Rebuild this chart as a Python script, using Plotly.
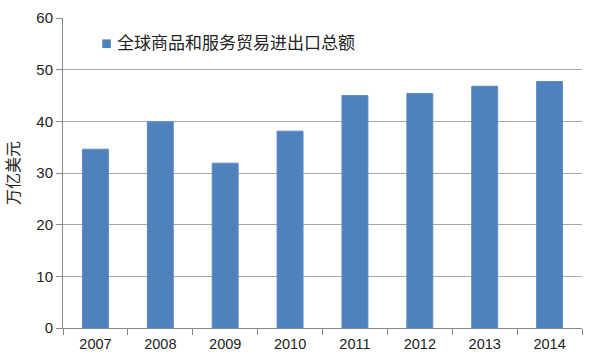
import plotly.graph_objects as go

years = ["2007", "2008", "2009", "2010", "2011", "2012", "2013", "2014"]
values = [34.6, 39.9, 31.9, 38.1, 45.0, 45.4, 46.8, 47.7]
series_name = "全球商品和服务贸易进出口总额"
y_title = "万亿美元"

font_family = "Liberation Sans, Noto Sans CJK SC, sans-serif"
bar_color = "#4F81BD"

fig = go.Figure()
fig.add_trace(go.Bar(
    x=years, y=values, name=series_name,
    marker=dict(color=bar_color, line=dict(color="#5B8BC6", width=1)),
    showlegend=False,
))

# legend drawn as swatch + text (compact, like the original)
fig.add_shape(type="rect", xref="paper", yref="paper",
              x0=0.0757, x1=0.0922, y0=0.903, y1=0.931,
              fillcolor=bar_color, line=dict(width=0))
fig.add_annotation(xref="paper", yref="paper", x=0.101, y=0.918,
                   xanchor="left", yanchor="middle", showarrow=False,
                   text=series_name, font=dict(size=17, color="#222222"))

fig.update_layout(
    width=591, height=355,
    margin=dict(l=63, r=9, t=18, b=27),
    paper_bgcolor="white", plot_bgcolor="white",
    bargap=0.6,
    font=dict(family=font_family, size=14, color="#222222"),
    xaxis=dict(
        type="category", showline=True, linecolor="#888888", linewidth=1,
        ticks="outside", tickson="boundaries", ticklen=6, tickcolor="#888888",
        showgrid=False, tickfont=dict(size=14.5), ticklabelstandoff=3,
        automargin=False,
    ),
    yaxis=dict(
        range=[0, 60], dtick=10, showline=True, linecolor="#888888", linewidth=1,
        ticks="outside", ticklen=6, tickcolor="#888888",
        showgrid=True, gridcolor="#A6A6A6", gridwidth=1,
        zeroline=False, tickfont=dict(size=15), automargin=False,
        title=dict(text=y_title, font=dict(size=16), standoff=12),
    ),
)

fig.write_html("out.html")
